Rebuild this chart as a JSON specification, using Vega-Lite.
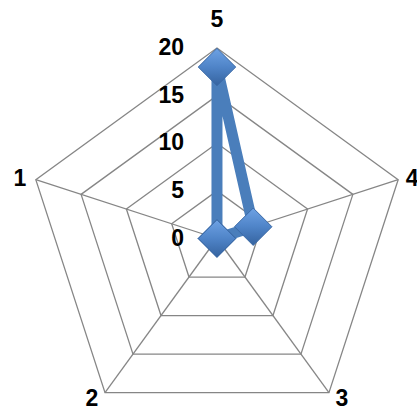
{
  "$schema": "https://vega.github.io/schema/vega-lite/v6.json",
  "width": 417,
  "height": 415,
  "padding": 0,
  "autosize": {"type": "none"},
  "background": "white",
  "config": {"view": {"stroke": null}, "text": {"font": "Liberation Sans", "fontWeight": "bold", "fontSize": 23, "color": "black"}},
  "datasets": {
    "series": [
      {"axis": 1, "value": 0},
      {"axis": 2, "value": 0},
      {"axis": 3, "value": 0},
      {"axis": 4, "value": 4},
      {"axis": 5, "value": 18}
    ],
    "rings": [
      {"level": 5, "axis": 1}, {"level": 5, "axis": 2}, {"level": 5, "axis": 3}, {"level": 5, "axis": 4}, {"level": 5, "axis": 5},
      {"level": 10, "axis": 1}, {"level": 10, "axis": 2}, {"level": 10, "axis": 3}, {"level": 10, "axis": 4}, {"level": 10, "axis": 5},
      {"level": 15, "axis": 1}, {"level": 15, "axis": 2}, {"level": 15, "axis": 3}, {"level": 15, "axis": 4}, {"level": 15, "axis": 5},
      {"level": 20, "axis": 1}, {"level": 20, "axis": 2}, {"level": 20, "axis": 3}, {"level": 20, "axis": 4}, {"level": 20, "axis": 5}
    ],
    "ticks": [
      {"tick": 0}, {"tick": 5}, {"tick": 10}, {"tick": 15}, {"tick": 20}
    ]
  },
  "layer": [
    {
      "data": {"name": "rings"},
      "transform": [
        {"calculate": "(5 - datum.axis) * 2 * PI / 5", "as": "ang"},
        {"calculate": "datum.level * sin(datum.ang)", "as": "px"},
        {"calculate": "datum.level * cos(datum.ang)", "as": "py"}
      ],
      "mark": {"type": "line", "interpolate": "linear-closed", "stroke": "#868686", "strokeWidth": 1.3},
      "encoding": {
        "x": {"field": "px", "type": "quantitative", "scale": {"domain": [-22.78, 21.0], "nice": false, "zero": false}, "axis": null},
        "y": {"field": "py", "type": "quantitative", "scale": {"domain": [-18.53, 25.04], "nice": false, "zero": false}, "axis": null},
        "detail": {"field": "level", "type": "nominal"},
        "order": {"field": "axis", "type": "quantitative"}
      }
    },
    {
      "data": {"name": "rings"},
      "transform": [
        {"filter": "datum.level == 20"},
        {"calculate": "(5 - datum.axis) * 2 * PI / 5", "as": "ang"},
        {"calculate": "datum.level * sin(datum.ang)", "as": "px"},
        {"calculate": "datum.level * cos(datum.ang)", "as": "py"}
      ],
      "mark": {"type": "rule", "stroke": "#868686", "strokeWidth": 1.3},
      "encoding": {
        "x": {"field": "px", "type": "quantitative"},
        "y": {"field": "py", "type": "quantitative"},
        "x2": {"datum": 0},
        "y2": {"datum": 0}
      }
    },
    {
      "data": {"name": "series"},
      "transform": [
        {"calculate": "(5 - datum.axis) * 2 * PI / 5", "as": "ang"},
        {"calculate": "datum.value * sin(datum.ang)", "as": "px"},
        {"calculate": "datum.value * cos(datum.ang)", "as": "py"}
      ],
      "mark": {"type": "line", "interpolate": "linear-closed", "stroke": "#4a7ebb", "strokeWidth": 11, "strokeJoin": "miter"},
      "encoding": {
        "x": {"field": "px", "type": "quantitative"},
        "y": {"field": "py", "type": "quantitative"},
        "order": {"field": "axis", "type": "quantitative"}
      }
    },
    {
      "data": {"name": "series"},
      "transform": [
        {"calculate": "(5 - datum.axis) * 2 * PI / 5", "as": "ang"},
        {"calculate": "datum.value * sin(datum.ang)", "as": "px"},
        {"calculate": "datum.value * cos(datum.ang)", "as": "py"}
      ],
      "mark": {
        "type": "point",
        "shape": "diamond",
        "filled": true,
        "size": 1400,
        "opacity": 1,
        "fill": {"gradient": "linear", "x1": 0, "y1": 0, "x2": 0, "y2": 1, "stops": [{"offset": 0, "color": "#6ea2e4"}, {"offset": 0.5, "color": "#4f84c8"}, {"offset": 1, "color": "#35639f"}]},
        "stroke": "#3a69a6",
        "strokeWidth": 1
      },
      "encoding": {
        "x": {"field": "px", "type": "quantitative"},
        "y": {"field": "py", "type": "quantitative"}
      }
    },
    {
      "data": {"name": "ticks"},
      "mark": {"type": "text", "align": "right", "baseline": "middle", "dx": -33},
      "encoding": {
        "x": {"datum": 0, "type": "quantitative"},
        "y": {"field": "tick", "type": "quantitative"},
        "text": {"field": "tick", "type": "nominal"}
      }
    },
    {
      "data": {"name": "series"},
      "transform": [
        {"filter": "datum.axis == 5"},
        {"calculate": "20 * sin((5 - datum.axis) * 2 * PI / 5)", "as": "px"},
        {"calculate": "20 * cos((5 - datum.axis) * 2 * PI / 5)", "as": "py"}
      ],
      "mark": {"type": "text", "align": "center", "baseline": "middle", "dy": -28},
      "encoding": {
        "x": {"field": "px", "type": "quantitative"},
        "y": {"field": "py", "type": "quantitative"},
        "text": {"field": "axis", "type": "nominal"}
      }
    },
    {
      "data": {"name": "series"},
      "transform": [
        {"filter": "datum.axis == 1"},
        {"calculate": "20 * sin((5 - datum.axis) * 2 * PI / 5)", "as": "px"},
        {"calculate": "20 * cos((5 - datum.axis) * 2 * PI / 5)", "as": "py"}
      ],
      "mark": {"type": "text", "align": "center", "baseline": "middle", "dx": -16, "dy": -1},
      "encoding": {
        "x": {"field": "px", "type": "quantitative"},
        "y": {"field": "py", "type": "quantitative"},
        "text": {"field": "axis", "type": "nominal"}
      }
    },
    {
      "data": {"name": "series"},
      "transform": [
        {"filter": "datum.axis == 4"},
        {"calculate": "20 * sin((5 - datum.axis) * 2 * PI / 5)", "as": "px"},
        {"calculate": "20 * cos((5 - datum.axis) * 2 * PI / 5)", "as": "py"}
      ],
      "mark": {"type": "text", "align": "center", "baseline": "middle", "dx": 14, "dy": -1},
      "encoding": {
        "x": {"field": "px", "type": "quantitative"},
        "y": {"field": "py", "type": "quantitative"},
        "text": {"field": "axis", "type": "nominal"}
      }
    },
    {
      "data": {"name": "series"},
      "transform": [
        {"filter": "datum.axis == 2"},
        {"calculate": "20 * sin((5 - datum.axis) * 2 * PI / 5)", "as": "px"},
        {"calculate": "20 * cos((5 - datum.axis) * 2 * PI / 5)", "as": "py"}
      ],
      "mark": {"type": "text", "align": "center", "baseline": "middle", "dx": -13, "dy": 6},
      "encoding": {
        "x": {"field": "px", "type": "quantitative"},
        "y": {"field": "py", "type": "quantitative"},
        "text": {"field": "axis", "type": "nominal"}
      }
    },
    {
      "data": {"name": "series"},
      "transform": [
        {"filter": "datum.axis == 3"},
        {"calculate": "20 * sin((5 - datum.axis) * 2 * PI / 5)", "as": "px"},
        {"calculate": "20 * cos((5 - datum.axis) * 2 * PI / 5)", "as": "py"}
      ],
      "mark": {"type": "text", "align": "center", "baseline": "middle", "dx": 13, "dy": 6},
      "encoding": {
        "x": {"field": "px", "type": "quantitative"},
        "y": {"field": "py", "type": "quantitative"},
        "text": {"field": "axis", "type": "nominal"}
      }
    }
  ]
}
